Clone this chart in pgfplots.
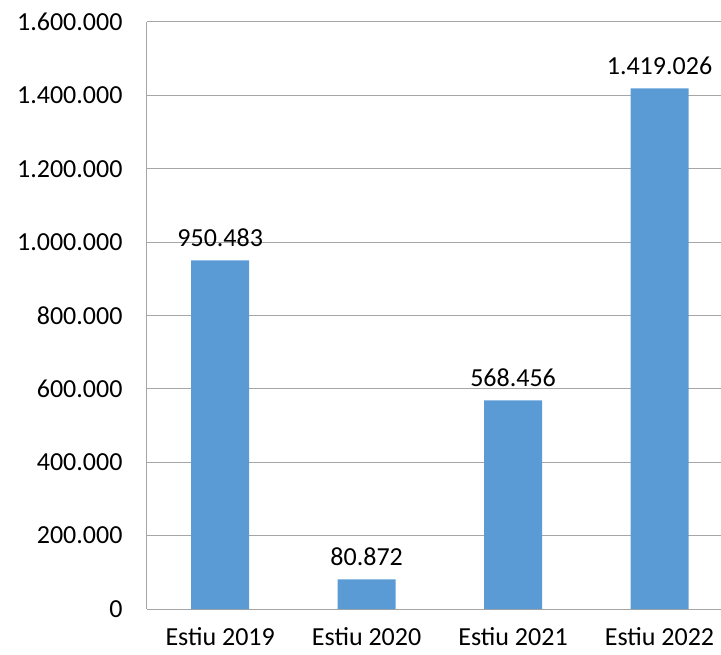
\documentclass[border=0pt]{standalone}
\usepackage{pgfplots}
\pgfplotsset{compat=1.18}
\usepackage{fontspec}
\setmainfont{Carlito}
\definecolor{barblue}{HTML}{5B9BD5}
\definecolor{gridgray}{HTML}{A6A6A6}
\begin{document}
\begin{tikzpicture}[x=1pt,y=1pt]
\begin{axis}[
  name=ax,
  at={(0,0)}, anchor=south west,
  scale only axis,
  width=574pt, height=587pt,
  xmin=-0.5, xmax=3.42,
  ymin=0, ymax=1600000,
  ytick distance=200000,
  xtick={0,1,2,3},
  xticklabels={Estiu 2019,Estiu 2020,Estiu 2021,Estiu 2022},
  scaled y ticks=false,
  axis lines=left,
  axis line style={-, draw=gridgray, line width=1pt},
  ymajorgrids,
  grid style={draw=gridgray, line width=1pt},
  major tick length=0pt,
  tick label style={font=\fontsize{26}{30}\selectfont, text=black},
  yticklabel style={xshift=-21pt},
  xticklabel style={yshift=-15pt},
  /pgf/number format/.cd, fixed, precision=0, 1000 sep={.}, assume math mode=true,
  /pgfplots/.cd,
  ybar, bar width=58pt,
  nodes near coords,
  every node near coord/.append style={font=\fontsize{26}{30}\selectfont, text=black, yshift=10pt},
  clip=false,
]
\addplot[fill=barblue, draw=none] coordinates {(0,950483) (1,80872) (2,568456) (3,1419026)};
\end{axis}
\pgfresetboundingbox
\path[use as bounding box] ([xshift=-147pt,yshift=-45pt]ax.south west) rectangle ([yshift=22pt]ax.north east);
\end{tikzpicture}
\end{document}
